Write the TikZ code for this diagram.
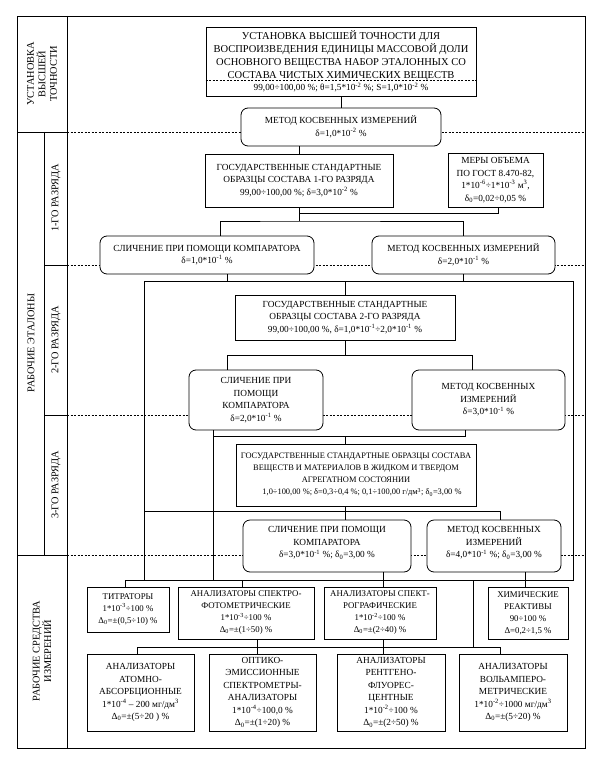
\documentclass[tikz,border=0pt]{standalone}
\usepackage{fontspec}
\setmainfont{Liberation Serif}
\newcommand\fs{\fontsize{9.3}{12.5}\selectfont}
\newcommand\fsbig{\fontsize{10.5}{13}\selectfont}
\newcommand\fsval{\fontsize{9.3}{12}\selectfont}
\newcommand\fssmall{\fontsize{8.4}{12}\selectfont}
\newcommand\fsrow{\fontsize{8.8}{12}\selectfont}
\newcommand\fslab{\fontsize{10.3}{11.5}\selectfont}
\newcommand\tenp[1]{10\textsuperscript{#1}}
\newcommand\dzero{δ\textsubscript{0}}
\newcommand\Dzero{Δ\textsubscript{0}}
\tikzset{
  box/.style={draw, line width=0.8pt, fill=white, align=center, inner sep=1pt, font=\fs},
  rbox/.style={box, rounded corners=7pt},
  conn/.style={line width=0.7pt},
  sepline/.style={line width=0.55pt, dash pattern=on 2pt off 1.5pt},
  frameline/.style={line width=0.7pt},
  lab/.style={rotate=90, align=center, font=\fslab, inner sep=0pt},
  txt/.style={align=center, inner sep=0pt},
}
\begin{document}
\begin{tikzpicture}[x=1pt,y=-1pt]
\useasboundingbox (0,0) rectangle (605,762);
% dashed level separators
\foreach \yy in {132,265,415,555} \draw[sepline] (67,\yy) -- (585,\yy);
% table frame
\draw[frameline] (17,16) rectangle (585,748);
\draw[frameline] (67,16) -- (67,748);
\draw[frameline] (44,132) -- (44,555);
\draw[frameline] (17,132) -- (67,132);
\draw[frameline] (44,265) -- (67,265);
\draw[frameline] (44,415) -- (67,415);
\draw[frameline] (17,555) -- (67,555);
% labels
\node[lab] (L1) at (42,74) {УСТАНОВКА\\ВЫСШЕЙ\\ТОЧНОСТИ};
\node[lab] (L2) at (31,343) {РАБОЧИЕ ЭТАЛОНЫ};
\node[lab] (L3) at (56,198) {1-ГО РАЗРЯДА};
\node[lab] (L4) at (56,340) {2-ГО РАЗРЯДА};
\node[lab] (L5) at (56,485) {3-ГО РАЗРЯДА};
\node[lab] (L6) at (42,651) {РАБОЧИЕ СРЕДСТВА\\ИЗМЕРЕНИЙ};

% top box
\node[draw, line width=0.8pt, fill=white, minimum width=270pt, minimum height=69pt, inner sep=0pt] (A) at (341,61.5) {};
\node[txt, font=\fsbig] (At) at (341,55.5) {УСТАНОВКА ВЫСШЕЙ ТОЧНОСТИ ДЛЯ\\ВОСПРОИЗВЕДЕНИЯ ЕДИНИЦЫ МАССОВОЙ ДОЛИ\\ОСНОВНОГО ВЕЩЕСТВА НАБОР ЭТАЛОННЫХ СО\\СОСТАВА ЧИСТЫХ ХИМИЧЕСКИХ ВЕЩЕСТВ};
\coordinate (As) at (341,80.5);
\draw[sepline] (A.west |- As) -- (A.east |- As);
\node[txt, font=\fsval] (Av) at (341,87.5) {99,00÷100,00 \%; θ=1,5*\tenp{-2} \%; S=1,0*\tenp{-2} \%};

% nodes
\node[rbox, minimum width=200pt, minimum height=38pt] (B) at (341,127)
 {МЕТОД КОСВЕННЫХ ИЗМЕРЕНИЙ\\δ=1,0*\tenp{-2} \%};
\node[box, minimum width=188pt, minimum height=53pt] (C1) at (299,180.5)
 {ГОСУДАРСТВЕННЫЕ СТАНДАРТНЫЕ\\ОБРАЗЦЫ СОСТАВА 1-ГО РАЗРЯДА\\99,00÷100,00 \%; δ=3,0*\tenp{-2} \%};
\node[box, minimum width=95pt, minimum height=54pt] (C2) at (495.5,180)
 {МЕРЫ ОБЪЕМА\\ПО ГОСТ 8.470-82,\\1*\tenp{-6}÷1*\tenp{-3} м\textsuperscript{3},\\\dzero=0,02÷0,05 \%};
\node[rbox, minimum width=214pt, minimum height=38pt] (D1) at (207,255)
 {СЛИЧЕНИЕ ПРИ ПОМОЩИ КОМПАРАТОРА\\δ=1,0*\tenp{-1} \%};
\node[rbox, minimum width=183pt, minimum height=38pt] (D2) at (463.5,255)
 {МЕТОД КОСВЕННЫХ ИЗМЕРЕНИЙ\\δ=2,0*\tenp{-1} \%};
\node[box, minimum width=220pt, minimum height=45pt] (E0) at (345,317.5)
 {ГОСУДАРСТВЕННЫЕ СТАНДАРТНЫЕ\\ОБРАЗЦЫ СОСТАВА 2-ГО РАЗРЯДА\\99,00÷100,00 \%, δ=1,0*\tenp{-1}÷2,0*\tenp{-1} \%};
\node[rbox, minimum width=134pt, minimum height=60pt] (E1) at (256,400)
 {СЛИЧЕНИЕ ПРИ\\ПОМОЩИ\\КОМПАРАТОРА\\δ=2,0*\tenp{-1} \%};
\node[rbox, minimum width=153pt, minimum height=60pt] (E2) at (488.5,400)
 {МЕТОД КОСВЕННЫХ\\ИЗМЕРЕНИЙ\\δ=3,0*\tenp{-1} \%};
\node[box, font=\fssmall, minimum width=240pt, minimum height=62pt] (F0) at (356,475)
 {ГОСУДАРСТВЕННЫЕ СТАНДАРТНЫЕ ОБРАЗЦЫ СОСТАВА\\ВЕЩЕСТВ И МАТЕРИАЛОВ В ЖИДКОМ И ТВЕРДОМ\\АГРЕГАТНОМ СОСТОЯНИИ\\
 \hspace*{12pt}1,0÷100,00 \%; δ=0,3÷0,4 \%; 0,1÷100,00 г/дм\textsuperscript{3}; \dzero=3,00 \%};
\node[rbox, minimum width=168pt, minimum height=52pt] (F1) at (327,546)
 {СЛИЧЕНИЕ ПРИ ПОМОЩИ\\КОМПАРАТОРА\\δ=3,0*\tenp{-1} \%; \dzero=3,00 \%\\[-5pt]\mbox{}};
\node[rbox, minimum width=134pt, minimum height=52pt] (F2) at (494,546)
 {МЕТОД КОСВЕННЫХ\\ИЗМЕРЕНИЙ\\δ=4,0*\tenp{-1} \%; \dzero=3,00 \%\\[-5pt]\mbox{}};
\node[box, font=\fsrow, minimum width=82pt, minimum height=45pt] (R1) at (128,609.5)
 {ТИТРАТОРЫ\\1*\tenp{-3}÷100 \%\\\Dzero=±(0,5÷10) \%};
\node[box, font=\fsrow, minimum width=136pt, minimum height=52pt] (R2) at (246,613)
 {АНАЛИЗАТОРЫ СПЕКТРО-\\ФОТОМЕТРИЧЕСКИЕ\\1*\tenp{-3}÷100 \%\\\Dzero=±(1÷50) \%};
\node[box, font=\fsrow, minimum width=112pt, minimum height=52pt] (R3) at (380,613)
 {АНАЛИЗАТОРЫ СПЕКТ-\\РОГРАФИЧЕСКИЕ\\1*\tenp{-2}÷100 \%\\\Dzero=±(2÷40) \%};
\node[box, font=\fsrow, minimum width=80pt, minimum height=52pt] (R4) at (528,613)
 {ХИМИЧЕСКИЕ\\РЕАКТИВЫ\\90÷100 \%\\Δ=0,2÷1,5 \%};
\node[box, minimum width=107pt, minimum height=77pt] (G1) at (140.5,692.5)
 {АНАЛИЗАТОРЫ\\АТОМНО-\\АБСОРБЦИОННЫЕ\\1*\tenp{-4} – 200 мг/дм\textsuperscript{3}\\\Dzero=±(5÷20 ) \%};
\node[box, minimum width=107pt, minimum height=77pt] (G2) at (262.5,692.5)
 {ОПТИКО-\\ЭМИССИОННЫЕ\\СПЕКТРОМЕТРЫ-\\АНАЛИЗАТОРЫ\\1*\tenp{-4}÷100,0 \%\\\Dzero=±(1÷20) \%};
\node[box, minimum width=108pt, minimum height=77pt] (G3) at (391,692.5)
 {АНАЛИЗАТОРЫ\\РЕНТГЕНО-\\ФЛУОРЕС-\\ЦЕНТНЫЕ\\1*\tenp{-2}÷100 \%\\\Dzero=±(2÷50) \%};
\node[box, minimum width=108pt, minimum height=77pt] (G4) at (513,692.5)
 {АНАЛИЗАТОРЫ\\ВОЛЬАМПЕРО-\\МЕТРИЧЕСКИЕ\\1*\tenp{-2}÷1000 мг/дм\textsuperscript{3}\\\Dzero=±(5÷20) \%};

% junction coordinates
\coordinate (j1) at (299,213);
\coordinate (j2) at (299,221);
\coordinate (cR) at (498,213);
\coordinate (dLt) at (220,221);
\coordinate (dLb) at (227,281);
\coordinate (dRb) at (463,281);
\coordinate (bt) at (144,281);
\coordinate (bb) at (573,580);
\coordinate (jE) at (345,355);
\coordinate (eL) at (227,355);
\coordinate (eR) at (472,355);
\coordinate (jEL) at (213,436);
\coordinate (jEM) at (345,436);
\coordinate (jER) at (465,436);
\coordinate (jFL) at (144,511);
\coordinate (jF) at (345,511);
\coordinate (jFR) at (500,511);
\coordinate (jR) at (125,580);
\coordinate (rB) at (242,580);
\coordinate (f1b) at (383,580);
\coordinate (f2b) at (525,580);
\coordinate (jM) at (473,580);
\coordinate (jG) at (137,647);
\coordinate (jG4) at (500,647);
\coordinate (g2) at (257,647);
\coordinate (g3) at (383,647);

% connectors
\draw[conn] (A.south) -- (B.north);
\draw[conn] (B.south -| C1.north) -- (C1.north);
\draw[conn] (C1.south) -- (j2);
\draw[conn] (C2.south -| cR) -- (cR) -- (j1);
\draw[conn] (D1.north -| dLt) -- (dLt) -- (j2) -| (D2.north);
\draw[conn] (D1.south -| dLb) -- (dLb);
\draw[conn] (D2.south -| dRb) -- (dRb);
\draw[conn] (jR) -- (bb) -- (bb |- bt) -- (bt) -- (bt |- jR);
\draw[conn] (E0.north |- bt) -- (E0.north);
\draw[conn] (E0.south) -- (jE);
\draw[conn] (E1.north -| eL) -- (eL) -- (eR) -- (E2.north -| eR);
\draw[conn] (E1.south -| jEL) -- (jEL) -- (jER) -- (E2.south -| jER);
\draw[conn] (jEM) -- (F0.north -| jEM);
\draw[conn] (jEL) -- (jEL |- jR);
\draw[conn] (F0.south -| jF) -- (jF);
\draw[conn] (jFL) -- (jFR) -- (F2.north -| jFR);
\draw[conn] (jF) -- (F1.north -| jF);
\draw[conn] (F2.south -| f2b) -- (R4.north -| f2b);
\draw[conn] (F1.south -| f1b) -- (R3.north -| f1b);
\draw[conn] (jR) -- (R1.north -| jR);
\draw[conn] (rB) -- (R2.north -| rB);
\draw[conn] (jM) -- (jM |- jG);
\draw[conn] (G1.north -| jG) -- (jG) -- (jG4) -- (G4.north -| jG4);
\draw[conn] (R2.south -| g2) -- (G2.north -| g2);
\draw[conn] (R3.south -| g3) -- (G3.north -| g3);
\end{tikzpicture}
\end{document}
